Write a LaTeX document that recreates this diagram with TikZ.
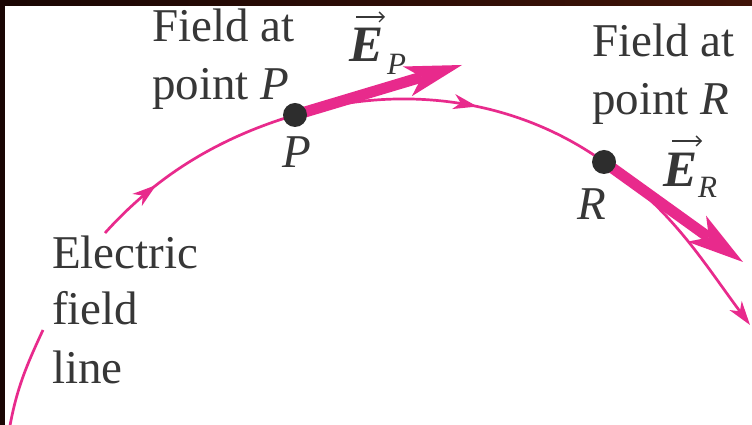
\documentclass[tikz,border=0pt]{standalone}
\usepackage{fontspec}
\setmainfont{Liberation Serif}
\usetikzlibrary{arrows.meta,calc,decorations.markings}
\definecolor{fieldmag}{RGB}{232,42,140}
\definecolor{dotgray}{RGB}{45,45,45}
\definecolor{txtgray}{RGB}{55,55,55}
\definecolor{frameA}{RGB}{26,6,4}
\definecolor{frameB}{RGB}{64,20,8}
\begin{document}
\begin{tikzpicture}[x=1pt,y=1pt,
  lbl/.style={anchor=base west, inner sep=0pt, text=txtgray, font=\fontsize{47}{56}\selectfont},
  vlbl/.style={anchor=base west, inner sep=0pt, text=txtgray, font=\fontsize{51}{56}\selectfont\bfseries\itshape},
  sublbl/.style={anchor=base west, inner sep=0pt, text=txtgray, font=\fontsize{31}{36}\selectfont\itshape},
  fieldline/.style={draw=fieldmag, line width=2.7pt},
  flarrow/.style={postaction={decorate}, decoration={markings, mark=at position #1 with {\arrow{Stealth[length=24pt,width=15pt,inset=7pt]}}}},
  evec/.style={draw=fieldmag, line width=11pt},
  ehead/.style={fill=fieldmag},
  ptdot/.style={circle, fill=dotgray, minimum size=24pt, inner sep=0pt},
  vecarrow/.style={draw=txtgray, line width=1.4pt, -{Straight Barb[length=5pt,width=10pt]}}
]
\useasboundingbox (0,0) rectangle (752,425);
\fill[white] (0,0) rectangle (752,425);
\shade[left color=frameA, right color=frameB] (0,419) rectangle (752,425);
\fill[frameA] (0,0) rectangle (5,425);

% key points
\coordinate (S0) at (9,-6);
\coordinate (S1) at (43,95);
\coordinate (S2) at (105,192);
\coordinate (P) at (295,310);
\coordinate (R) at (604,263);
\coordinate (End) at (750,100);
\coordinate (TP) at (462,360);
\coordinate (TR) at (743,163);

% field line
\draw[fieldline] (S0) to[out=80,in=-115] (S1);
\draw[fieldline, flarrow=0.31] (S2) to[out=48,in=196.7,looseness=0.9] (P);
\draw[fieldline, flarrow=0.57] (P) to[out=16.7,in=144.3,looseness=0.9] (R);
\draw[fieldline, -{Stealth[length=24pt,width=15pt,inset=7pt]}] (R) to[out=-35.7,in=126.5] (End);

% field vector at P
\coordinate (EPb) at ($(TP)!57pt!(P)$);
\coordinate (EPi) at ($(TP)!42pt!(P)$);
\coordinate (EP1) at ($(EPb)!15.5pt!90:(TP)$);
\coordinate (EP2) at ($(EPb)!15.5pt!-90:(TP)$);
\draw[evec] (P) -- (EPi);
\fill[ehead] (TP) -- (EP1) -- (EPi) -- (EP2) -- cycle;

% field vector at R
\coordinate (ERb) at ($(TR)!57pt!(R)$);
\coordinate (ERi) at ($(TR)!42pt!(R)$);
\coordinate (ER1) at ($(ERb)!16pt!90:(TR)$);
\coordinate (ER2) at ($(ERb)!16pt!-90:(TR)$);
\draw[evec] (R) -- (ERi);
\fill[ehead] (TR) -- (ER1) -- (ERi) -- (ER2) -- cycle;

% points
\node[ptdot] (Pdot) at (P) {};
\node[ptdot] (Rdot) at (R) {};

% labels
\node[lbl] (fa1) at (152,383) {Field at};
\node[lbl] (pp) at (152,325) {point \textit{P}};
\node[lbl] (fa2) at (592,368) {Field at};
\node[lbl] (pr) at (592,310) {point \textit{R}};
\node[lbl] (el1) at (52,156) {Electric};
\node[lbl] (el2) at (52,100) {field};
\node[lbl] (el3) at (52,41) {line};
\node[lbl] (Plab) at (282,257) {\textit{P}};
\node[lbl] (Rlab) at (577,205) {\textit{R}};
\node[vlbl] (EPE) at (349,363) {E};
\node[sublbl] (EPs) at (387,350) {P};
\node[vlbl] (ERE) at (663,238) {E};
\node[sublbl] (ERs) at (698,227) {R};

\coordinate (vP1) at (356,408);
\coordinate (vP2) at (385,408);
\draw[vecarrow] (vP1) -- (vP2);
\coordinate (vR1) at (672,284);
\coordinate (vR2) at (702,284);
\draw[vecarrow] (vR1) -- (vR2);
\end{tikzpicture}
\end{document}
